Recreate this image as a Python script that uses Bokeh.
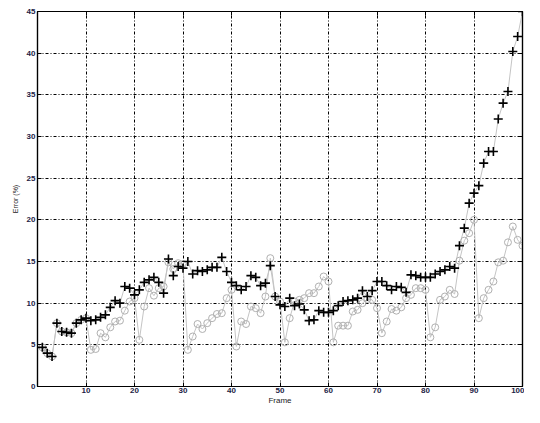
from bokeh.plotting import figure
from bokeh.models import LinearAxis, FixedTicker, Range1d, CustomLabelingPolicy
from bokeh.embed import file_html
from bokeh.resources import INLINE

frames = list(range(1, 101))
err_plus = [4.7, 4.0, 3.6, 7.6, 6.6, 6.5, 6.4, 7.6, 8.0, 8.2,
            7.9, 8.0, 8.3, 8.6, 9.5, 10.3, 10.0, 12.0, 11.8, 11.0,
            11.6, 12.5, 12.8, 13.1, 12.5, 11.2, 15.3, 13.3, 14.4, 14.2,
            15.0, 13.5, 13.9, 13.8, 14.0, 14.3, 14.3, 15.5, 13.8, 12.5,
            12.1, 11.6, 12.0, 13.3, 13.1, 12.1, 12.4, 14.5, 10.8, 9.8,
            9.6, 10.6, 9.7, 9.9, 9.2, 7.9, 8.0, 9.1, 8.9, 8.9,
            9.1, 9.7, 10.2, 10.3, 10.4, 10.6, 11.5, 10.8, 11.5, 12.6,
            12.6, 12.1, 11.6, 12.0, 11.9, 11.3, 13.4, 13.3, 13.1, 13.1,
            13.1, 13.5, 13.8, 14.0, 14.4, 14.2, 16.9, 19.0, 22.0, 23.2,
            24.1, 26.8, 28.2, 28.2, 32.1, 34.0, 35.4, 40.2, 42.0, 45.0]
err_circle = [4.7, 4.0, 3.6, 7.6, 6.6, 6.5, 6.4, 7.6, 8.0, 8.2,
              4.4, 4.5, 6.4, 5.9, 7.1, 7.8, 7.9, 9.1, 10.2, 10.6,
              5.6, 9.6, 11.8, 10.9, 11.8, 12.0, 14.9, 14.1, 14.8, 14.7,
              4.4, 6.0, 7.5, 6.9, 7.6, 8.2, 8.7, 8.8, 10.6, 11.6,
              4.8, 7.8, 7.5, 9.6, 9.4, 8.8, 10.8, 15.4, 10.8, 10.2,
              5.3, 8.2, 10.2, 10.4, 10.6, 11.2, 11.2, 12.0, 13.2, 12.6,
              5.3, 7.3, 7.3, 7.3, 9.0, 9.2, 10.0, 10.5, 10.4, 9.4,
              6.4, 7.8, 9.3, 9.1, 9.5, 10.6, 11.0, 11.8, 11.8, 11.6,
              5.9, 7.1, 10.4, 10.8, 11.6, 11.1, 15.1, 17.5, 18.4, 20.0,
              8.2, 10.6, 11.6, 12.6, 14.9, 15.1, 17.3, 19.2, 17.6, 16.9]
x_ticks = [10, 20, 30, 40, 50, 60, 70, 80, 90, 100]
y_ticks = [0, 5, 10, 15, 20, 25, 30, 35, 40, 45]

FONT = "Liberation Sans"

p = figure(width=524, height=407, output_backend="svg", toolbar_location=None,
           x_range=Range1d(0, 100), y_range=Range1d(0, 45),
           min_border_left=37, min_border_right=2, min_border_top=11, min_border_bottom=18)
p.outline_line_color = "black"
p.outline_line_width = 1.2

for ax in (p.xaxis[0], p.yaxis[0]):
    ax.major_tick_in = 4
    ax.major_tick_out = 0
    ax.minor_tick_line_color = None
    ax.axis_line_color = "black"
    ax.axis_line_width = 1.2
    ax.major_label_text_font = FONT
    ax.major_label_text_font_size = "8px"
    ax.major_label_text_font_style = "bold"
    ax.major_label_text_color = "#222244"
    ax.axis_label_text_font = FONT
    ax.axis_label_text_font_style = "normal"
    ax.axis_label_text_color = "#222222"

p.xaxis[0].ticker = FixedTicker(ticks=x_ticks)
p.yaxis[0].ticker = FixedTicker(ticks=y_ticks)
p.xaxis[0].axis_label = "Frame"
p.xaxis[0].axis_label_text_font_size = "8px"
p.xaxis[0].axis_label_standoff = 0
p.xaxis[0].major_label_standoff = 1
p.yaxis[0].axis_label = "Error (%)"
p.yaxis[0].axis_label_text_font_size = "7px"
p.yaxis[0].axis_label_standoff = 5
p.yaxis[0].major_label_standoff = 2

no_labels = CustomLabelingPolicy(code="""
try { for (const i of Array.from(indices)) indices.unset(i) } catch (e) {}
return indices
""")

for loc, tk in (("above", x_ticks), ("right", y_ticks)):
    ax = LinearAxis(ticker=FixedTicker(ticks=tk), major_tick_in=4, major_tick_out=0,
                    minor_tick_line_color=None, major_label_text_font_size="0px",
                    major_label_standoff=0, axis_line_width=1.2,
                    major_label_policy=no_labels)
    p.add_layout(ax, loc)

p.xgrid.ticker = FixedTicker(ticks=x_ticks)
p.ygrid.ticker = FixedTicker(ticks=y_ticks)
for g in (p.xgrid[0], p.ygrid[0]):
    g.grid_line_color = "black"
    g.grid_line_dash = "3 2 1 2"
    g.grid_line_width = 1

p.line(frames, err_circle, line_color="#c4c4c4", line_width=1)
p.line(frames, err_plus, line_color="#c4c4c4", line_width=1)
p.scatter(frames, err_circle, marker="circle", size=7, fill_color=None,
          line_color="#b0b0b0", line_width=1)
p.scatter(frames, err_plus, marker="cross", size=9, line_color="black", line_width=1.6)

open("out.html", "w").write(file_html(p, INLINE))
